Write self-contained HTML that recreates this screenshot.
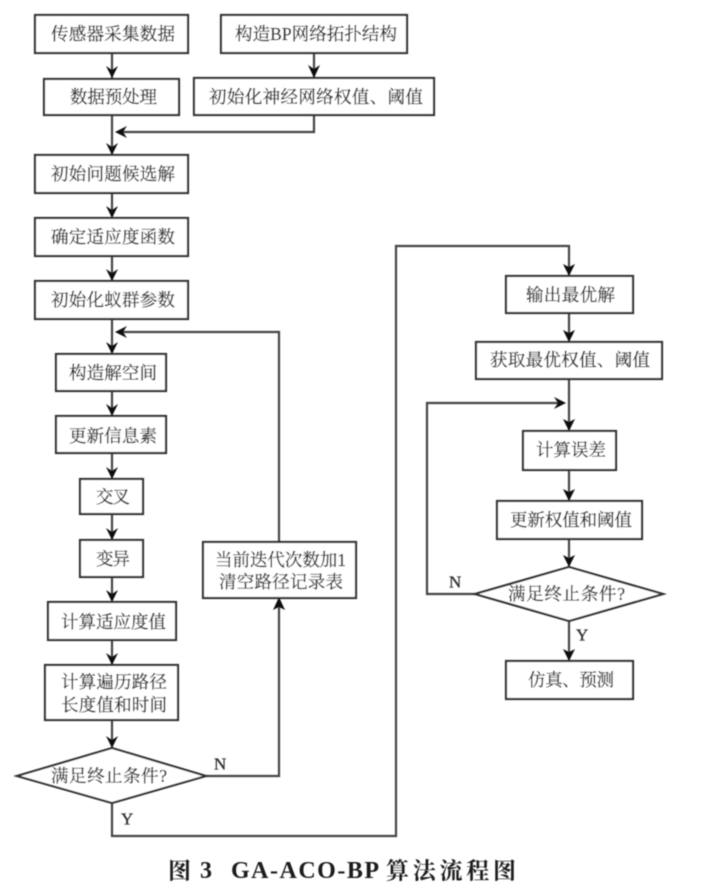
<!DOCTYPE html>
<html><head><meta charset="utf-8"><style>
html,body{margin:0;padding:0;background:#fff;width:727px;height:890px;overflow:hidden}
svg{display:block}
text{font-family:"Liberation Serif","Noto Serif CJK SC",serif;font-size:17.5px;fill:#2e2e2e;stroke:#2e2e2e;stroke-width:.3;dominant-baseline:central}
.b{fill:#fff;stroke:#333;stroke-width:2.2}
.l{fill:none;stroke:#444;stroke-width:2.2}
.a{fill:#111}
.c{font-weight:bold;font-size:23px;fill:#1c1c1c;stroke:none}
.k{font-weight:bold;font-size:24px;fill:#1c1c1c;stroke:none}
.e{font-size:17px}
</style></head><body>
<svg width="727" height="890" viewBox="0 0 727 890" xmlns="http://www.w3.org/2000/svg">
<defs><filter id="s" x="-2%" y="-2%" width="104%" height="104%"><feGaussianBlur stdDeviation="0.5"/></filter></defs>
<g filter="url(#s)">
<!-- lines -->
<path class="l" d="M112 53V79M112 115V155M314 53V78M314 115V132H118M112 193V218M112 256V281M112 319V354M112 391V416M112 453V479M112 514V540M112 577V602M112 640V665M112 720V748"/>
<path class="l" d="M206 776H279V598M279 542V332H118"/>
<path class="l" d="M112 803V836H396V246H569V276M569 313V342M569 379V431M569 470V501M569 539V567M569 621V661"/>
<path class="l" d="M475 594H427V403H563"/>
<!-- arrowheads -->
<path class="a" d="M106 66l6 4 6-4-6 12zM308 65l6 4 6-4-6 13zM106 143l6 4 6-4-6 12zM106 206l6 4 6-4-6 12zM106 269l6 4 6-4-6 12zM106 342l6 4 6-4-6 12zM106 404l6 4 6-4-6 12zM106 467l6 4 6-4-6 12zM106 528l6 4 6-4-6 12zM106 590l6 4 6-4-6 12zM106 653l6 4 6-4-6 12zM106 736l6 4 6-4-6 12z"/>
<path class="a" d="M115 132l12-6-4 6 4 6zM115 332l12-6-4 6 4 6zM273 610l6-13 6 13-6-3zM566 403l-12-6 4 6-4 6z"/>
<path class="a" d="M563 264l6 3 6-3-6 12zM563 330l6 3 6-3-6 12zM563 419l6 3 6-3-6 12zM563 489l6 3 6-3-6 12zM563 555l6 3 6-3-6 12zM563 649l6 3 6-3-6 12z"/>
<!-- boxes -->
<rect class="b" x="35" y="15" width="153" height="38"/>
<rect class="b" x="44" y="79" width="135" height="36"/>
<rect class="b" x="221" y="15" width="186" height="38"/>
<rect class="b" x="194" y="78" width="240" height="37"/>
<rect class="b" x="35" y="155" width="153" height="38"/>
<rect class="b" x="35" y="218" width="153" height="38"/>
<rect class="b" x="35" y="281" width="153" height="38"/>
<rect class="b" x="56" y="354" width="110" height="37"/>
<rect class="b" x="56" y="416" width="110" height="37"/>
<rect class="b" x="80" y="479" width="63" height="35"/>
<rect class="b" x="80" y="540" width="63" height="37"/>
<rect class="b" x="48" y="602" width="128" height="38"/>
<rect class="b" x="45" y="665" width="133" height="55"/>
<polygon class="b" points="112,748 206,776 112,803 17,776"/>
<rect class="b" x="203" y="542" width="153" height="56"/>
<rect class="b" x="506" y="276" width="127" height="37"/>
<rect class="b" x="476" y="342" width="186" height="37"/>
<rect class="b" x="523" y="431" width="93" height="39"/>
<rect class="b" x="497" y="501" width="145" height="38"/>
<polygon class="b" points="569,567 663,594 569,621 475,594"/>
<rect class="b" x="506" y="661" width="127" height="38"/>
<!-- text -->
<text x="51" y="34" textLength="124">传感器采集数据</text>
<text x="235" y="34" textLength="162">构造BP网络拓扑结构</text>
<text x="70" y="97" textLength="87">数据预处理</text>
<text x="209" y="97" textLength="214">初始化神经网络权值、阈值</text>
<text x="51" y="174" textLength="124">初始问题候选解</text>
<text x="51" y="237" textLength="124">确定适应度函数</text>
<text x="51" y="300" textLength="124">初始化蚁群参数</text>
<text x="69" y="373" textLength="88">构造解空间</text>
<text x="69" y="436" textLength="88">更新信息素</text>
<text x="96" y="497" textLength="34">交叉</text>
<text x="96" y="559" textLength="34">变异</text>
<text x="61" y="622" textLength="105">计算适应度值</text>
<text x="61" y="682" textLength="106">计算遍历路径</text>
<text x="61" y="705" textLength="106">长度值和时间</text>
<text x="51" y="776" textLength="116">满足终止条件?</text>
<text x="215" y="560" textLength="131">当前迭代次数加1</text>
<text x="219" y="582" textLength="124">清空路径记录表</text>
<text x="526" y="295" textLength="89">输出最优解</text>
<text x="490" y="360" textLength="160">获取最优权值、阈值</text>
<text x="536" y="450" textLength="70">计算误差</text>
<text x="510" y="520" textLength="122">更新权值和阈值</text>
<text x="508" y="594" textLength="117">满足终止条件?</text>
<text x="528" y="680" textLength="86">仿真、预测</text>
<text class="e" x="214" y="764">N</text>
<text class="e" x="121" y="819">Y</text>
<text class="e" x="449" y="582">N</text>
<text class="e" x="576" y="635">Y</text>
<text class="c" x="168" y="871">图</text>
<text class="k" x="200" y="871">3</text>
<text class="k" x="231" y="871" textLength="148">GA-ACO-BP</text>
<text class="c" x="386" y="871" textLength="130">算法流程图</text>
</g>
</svg>
</body></html>
